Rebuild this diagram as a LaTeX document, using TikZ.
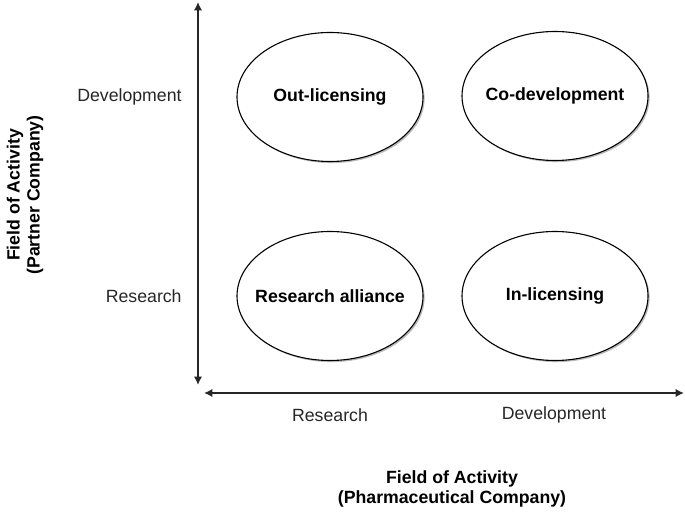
\documentclass[tikz,border=0pt]{standalone}
\usepackage{fontspec}
\setmainfont{Liberation Sans}
\usetikzlibrary{arrows.meta,shapes.geometric,shadows}

\tikzset{
  field/.style={ellipse,draw,fill=white,line width=0.55pt,minimum width=93pt,minimum height=64.5pt,inner sep=0pt,
    font=\fontsize{8.85}{10}\selectfont\bfseries,
    drop shadow={shadow xshift=0.8pt,shadow yshift=-0.8pt,opacity=0.45,fill=black!60}},
  tick/.style={font=\fontsize{8.85}{10}\selectfont,inner sep=0pt,text=black!85},
  axistitle/.style={font=\fontsize{8.85}{10}\selectfont\bfseries,align=center,inner sep=0pt},
  axis/.style={line width=1pt,draw=black!85,{Latex[length=4.2pt,width=4.2pt]}-{Latex[length=4.2pt,width=4.2pt]}}
}
% text that does not widen the ellipse
\newcommand{\fieldtext}[1]{\makebox[0pt]{#1}}

\begin{document}
\begin{tikzpicture}[x=0.5pt,y=-0.5pt]
\useasboundingbox (0,0) rectangle (685,512);
% axes
\coordinate (ytop) at (198,2);
\coordinate (ybot) at (198,385);
\coordinate (xleft) at (204,393);
\coordinate (xright) at (684,393);
\draw[axis] (ytop)--(ybot);
\draw[axis] (xleft)--(xright);
% fields of cooperation
\node[field] (out) at (330,97){\fieldtext{Out-licensing}};
\node[field] (codev) at (555,96){\fieldtext{Co-development}};
\node[field] (alliance) at (330,296){\fieldtext{Research alliance}};
\node[field] (in) at (555,296){\fieldtext{In-licensing}};
% ticks
\node[tick,anchor=east] (ydev) at (182,97){Development};
\node[tick,anchor=east] (yres) at (182,296){Research};
\node[tick] (xres) at (330,415){Research};
\node[tick] (xdev) at (554,415){Development};
% titles
\node[axistitle,rotate=90] (ytitle) at (25,195){Field of Activity\\(Partner Company)};
\node[axistitle] (xtitle) at (452,489){Field of Activity\\(Pharmaceutical Company)};
\end{tikzpicture}
\end{document}
